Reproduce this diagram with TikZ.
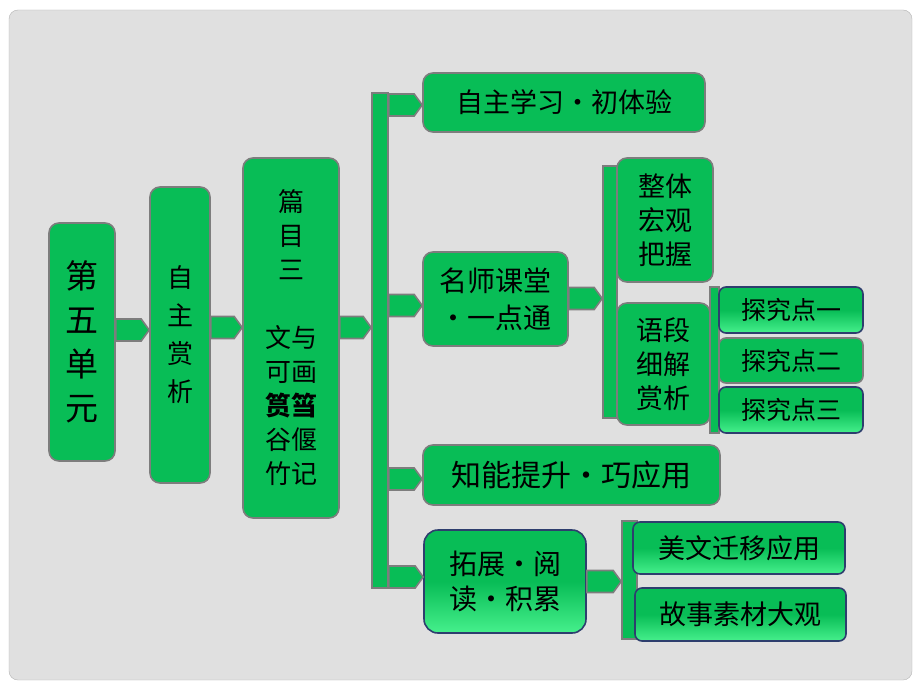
\documentclass[tikz,border=0pt]{standalone}
\usepackage{fontspec}
\setmainfont{Noto Sans CJK SC}
\usetikzlibrary{calc}

\definecolor{boxgreen}{RGB}{8,189,86}
\definecolor{bevellight}{RGB}{70,240,140}
\definecolor{edgegray}{RGB}{125,125,125}
\definecolor{bevelblue}{RGB}{46,62,110}
\definecolor{bggray}{RGB}{224,224,224}
\definecolor{framegray}{RGB}{180,180,180}

% block arrow from node #1 to node #2 at height #3
\newcommand{\blockarrow}[3]{%
  \draw[block] ($(#1.east |- 0,#3)+(0,-11)$) -- ($(#2.west |- 0,#3)+(-8,-11)$)
    -- (#2.west |- 0,#3) -- ($(#2.west |- 0,#3)+(-8,11)$)
    -- ($(#1.east |- 0,#3)+(0,11)$) -- cycle;}
\newcommand{\mdot}{\makebox[1em]{·}}

\begin{document}
\begin{tikzpicture}[x=1pt,y=-1pt,
  box size/.style 2 args={minimum width=#1pt,minimum height=#2pt},
  fs/.style 2 args={font=\fontsize{#1}{#2}\selectfont},
  main node/.style={draw=edgegray,line width=1.6pt,fill=boxgreen,rounded corners=10pt,inner sep=0pt,align=center},
  bevel node/.style={main node,draw=bevelblue,top color=boxgreen,bottom color=bevellight,middle color=boxgreen},
  bar node/.style={draw=edgegray,line width=1.6pt,fill=boxgreen,inner sep=0pt},
  block/.style={draw=edgegray,line width=1.6pt,fill=boxgreen,line join=miter}]

            \fill[white] (0,0) rectangle (920,690);
            \useasboundingbox (0,0) rectangle (920,690);
            \draw[framegray,fill=bggray,rounded corners=9pt] (9,10) rectangle (912,680);

            \node[main node, box size={66}{238}, fs={33}{44}] (unit) at (82,342) {第\\五\\单\\元};
            \node[main node, box size={60}{296}, fs={26}{38}] (self) at (180,335) {自\\主\\赏\\析};
            \node[main node, box size={96}{360}, fs={26}{34}] (title) at (291,338)
                {篇\\目\\三\\[34pt]文与\\可画\\{\bfseries 筼筜}\\谷偃\\竹记};

            \node[bar node, box size={16}{495}] (bar1) at (380,340.5) {};
            \node[bar node, box size={14}{252}] (bar2) at (610,292) {};
            \node[bar node, box size={9}{146}] (bar3) at (714.5,360) {};
            \node[bar node, box size={15}{118}] (bar4) at (629.5,580) {};

            \node[main node, box size={282}{59}, fs={27}{34}] (study) at (564,102.5) {自主学习\mdot 初体验};
            \node[main node, box size={145}{94}, fs={28}{37}] (class) at (495.5,299) {名师课堂\\\mdot 一点通};
            \node[main node, box size={96}{124}, fs={27}{34}] (whole) at (665,220) {整体\\宏观\\把握};
            \node[main node, box size={93}{122}, fs={27}{34}] (para) at (663.5,364) {语段\\细解\\赏析};
            \node[bevel node, box size={144}{46}, rounded corners=7pt, fs={25}{30}] (p1) at (791,310) {探究点一};
            \node[main node, box size={144}{45}, rounded corners=7pt, fs={25}{30}] (p2) at (791,360.5) {探究点二};
            \node[bevel node, box size={144}{46}, rounded corners=7pt, fs={25}{30}] (p3) at (791,410) {探究点三};
            \node[main node, box size={297}{60}, fs={30}{36}] (skill) at (571.5,475) {知能提升\mdot 巧应用};
            \node[bevel node, box size={162}{103}, rounded corners=14pt, fs={28}{35}] (read) at (505,581.5) {拓展\mdot 阅\\读\mdot 积累};
            \node[bevel node, box size={212}{52}, rounded corners=7pt, fs={27}{32}] (essay) at (739,548) {美文迁移应用};
            \node[bevel node, box size={211}{53}, rounded corners=7pt, fs={27}{32}] (story) at (740.5,614.5) {故事素材大观};

            \blockarrow{unit}{self}{330}
            \blockarrow{self}{title}{327.5}
            \blockarrow{title}{bar1}{327.5}
            \blockarrow{bar1}{study}{105}
            \blockarrow{bar1}{class}{305.5}
            \blockarrow{bar1}{skill}{479}
            \blockarrow{bar1}{read}{577}
            \blockarrow{class}{bar2}{298.5}
            \blockarrow{read}{bar4}{581.5}

        \end{tikzpicture}
\end{document}
